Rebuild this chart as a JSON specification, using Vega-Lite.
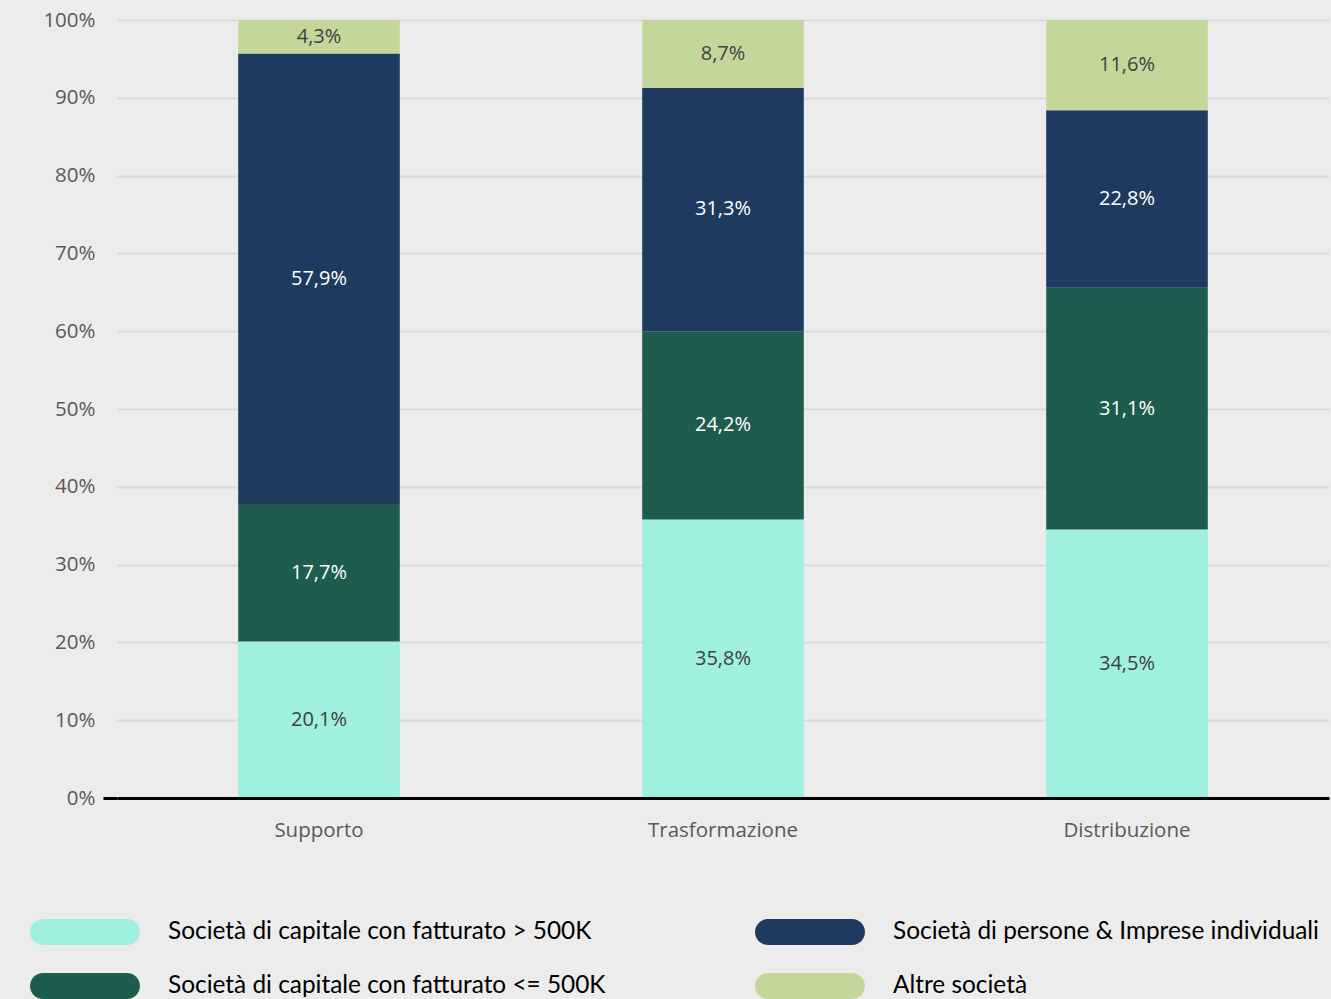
{
  "$schema": "https://vega.github.io/schema/vega-lite/v6.json",
  "width": 1212,
  "height": 778,
  "autosize": {"type": "none"},
  "padding": {"left": 117, "top": 20, "right": 2, "bottom": 201},
  "background": "#ececec",
  "config": {"view": {"stroke": null}, "font": "Open Sans"},
  "data": {
    "values": [
      {"cat": "Supporto", "s": "Società di capitale con fatturato > 500K", "k": 1, "v": 20.1},
      {"cat": "Supporto", "s": "Società di capitale con fatturato <= 500K", "k": 2, "v": 17.7},
      {"cat": "Supporto", "s": "Società di persone & Imprese individuali", "k": 3, "v": 57.9},
      {"cat": "Supporto", "s": "Altre società", "k": 4, "v": 4.3},
      {"cat": "Trasformazione", "s": "Società di capitale con fatturato > 500K", "k": 1, "v": 35.8},
      {"cat": "Trasformazione", "s": "Società di capitale con fatturato <= 500K", "k": 2, "v": 24.2},
      {"cat": "Trasformazione", "s": "Società di persone & Imprese individuali", "k": 3, "v": 31.3},
      {"cat": "Trasformazione", "s": "Altre società", "k": 4, "v": 8.7},
      {"cat": "Distribuzione", "s": "Società di capitale con fatturato > 500K", "k": 1, "v": 34.5},
      {"cat": "Distribuzione", "s": "Società di capitale con fatturato <= 500K", "k": 2, "v": 31.1},
      {"cat": "Distribuzione", "s": "Società di persone & Imprese individuali", "k": 3, "v": 22.8},
      {"cat": "Distribuzione", "s": "Altre società", "k": 4, "v": 11.6}
    ]
  },
  "transform": [
    {"stack": "v", "groupby": ["cat"], "sort": [{"field": "k", "order": "ascending"}], "as": ["y0", "y1"]},
    {"calculate": "(datum.y0 + datum.y1) / 2", "as": "mid"},
    {"calculate": "replace(format(datum.v, '.1f'), '.', ',') + '%'", "as": "lab"}
  ],
  "encoding": {
    "x": {
      "field": "cat",
      "type": "nominal",
      "sort": ["Supporto", "Trasformazione", "Distribuzione"],
      "scale": {"paddingInner": 0.6, "paddingOuter": 0.3},
      "axis": {
        "title": null,
        "domain": true,
        "domainColor": "black",
        "domainWidth": 3,
        "ticks": false,
        "labelAngle": 0,
        "labelPadding": 22,
        "labelFontSize": 20.5,
        "labelColor": "#595959",
        "labelFont": "Open Sans",
        "zindex": 1
      }
    }
  },
  "layer": [
    {
      "mark": {"type": "bar"},
      "encoding": {
        "y": {
          "field": "y1",
          "type": "quantitative",
          "scale": {"domain": [0, 100]},
          "axis": {
            "title": null,
            "values": [0, 10, 20, 30, 40, 50, 60, 70, 80, 90, 100],
            "labelExpr": "datum.value + '%'",
            "domain": false,
            "grid": true,
            "gridColor": "#d9d9d9",
            "gridWidth": 2,
            "tickSize": 14,
            "tickWidth": 3,
            "tickColor": {"condition": {"test": "datum.value === 0", "value": "black"}, "value": "transparent"},
            "labelPadding": 8,
            "labelFontSize": 20.5,
            "labelColor": "#595959",
            "labelFont": "Open Sans"
          }
        },
        "y2": {"field": "y0"},
        "color": {
          "field": "s",
          "type": "nominal",
          "scale": {
            "domain": [
              "Società di capitale con fatturato > 500K",
              "Società di capitale con fatturato <= 500K",
              "Società di persone & Imprese individuali",
              "Altre società"
            ],
            "range": ["#a0f0e1", "#1e5c50", "#1f3a5f", "#c4d79b"]
          },
          "legend": {
            "title": null,
            "orient": "none",
            "legendX": -87,
            "legendY": 899,
            "columns": 2,
            "columnPadding": 149,
            "rowPadding": 28,
            "symbolType": "M -3.23 -1 L 3.23 -1 A 1 1 0 0 1 3.23 1 L -3.23 1 A 1 1 0 0 1 -3.23 -1 Z",
            "symbolSize": 676,
            "symbolOffset": 42,
            "symbolStrokeWidth": 0,
            "symbolOpacity": 1,
            "labelFontSize": 24.4,
            "labelFont": "Lato",
            "labelColor": "black",
            "labelOffset": 70,
            "labelLimit": 700
          }
        }
      }
    },
    {
      "mark": {"type": "text", "fontSize": 20, "baseline": "middle", "font": "Open Sans"},
      "encoding": {
        "y": {"field": "mid", "type": "quantitative"},
        "text": {"field": "lab"},
        "color": {"condition": {"test": "datum.k == 2 || datum.k == 3", "value": "white"}, "value": "#404040"}
      }
    }
  ]
}
